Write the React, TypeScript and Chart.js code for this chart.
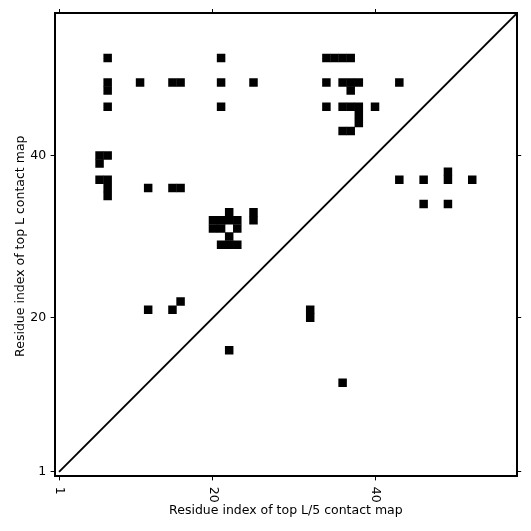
import React, { useEffect, useRef } from 'react';
import { Chart, registerables } from 'chart.js';

Chart.register(...registerables);

// ---- data ----
const axisMin = 0.5;
const axisMax = 57.5;
const tickValues = [1, 20, 40];
const tickLabels = ['1', '20', '40'];
const xTitle = 'Residue index of top L/5 contact map';
const yTitle = 'Residue index of top L contact map';

// top L contacts (upper-left triangle)
const topLX = [
  7, 21, 34, 35, 36, 37,
  7, 11, 15, 16, 21, 25, 34, 36, 37, 38, 43,
  7, 37,
  7, 21, 34, 36, 37, 38, 40,
  38,
  38,
  36, 37,
  6, 7,
  6,
  6, 7,
  7, 12, 15, 16,
  7,
  22, 25,
  20, 21, 22, 23, 25,
  20, 21, 23,
  22,
  21, 22, 23,
  16,
  12, 15,
];
const topLY = [
  52, 52, 52, 52, 52, 52,
  49, 49, 49, 49, 49, 49, 49, 49, 49, 49, 49,
  48, 48,
  46, 46, 46, 46, 46, 46, 46,
  45,
  44,
  43, 43,
  40, 40,
  39,
  37, 37,
  36, 36, 36, 36,
  35,
  33, 33,
  32, 32, 32, 32, 32,
  31, 31, 31,
  30,
  29, 29, 29,
  22,
  21, 21,
];

// top L/5 contacts (lower-right triangle)
const topL5X = [43, 46, 49, 49, 52, 46, 49, 32, 32, 22, 36];
const topL5Y = [37, 37, 37, 38, 37, 34, 34, 21, 20, 16, 12];

const diagonalX = [1, 57.5];
const diagonalY = [1, 57.5];

// ---- styling ----
const FONT = '"DejaVu Sans", sans-serif';
const FS = 12.5;
const TICK_LEN = 4.4;
const TICK_PAD = 4.4;

function cellRadius(ctx: any) {
  const s = ctx.chart.scales.x;
  if (!s) return 4;
  return (Math.abs(s.getPixelForValue(1) - s.getPixelForValue(0)) + 0.4) / Math.SQRT2;
}

const setTicks = (scale: any) => {
  scale.ticks = tickValues.map((v) => ({ value: v }));
};

const textPlugin = {
  id: 'contactTexts',
  afterDraw(chart: any) {
    const { ctx, chartArea, scales } = chart;
    ctx.save();
    ctx.fillStyle = '#000';
    ctx.font = `${FS}px ${FONT}`;
    // x tick labels, rotated clockwise
    tickValues.forEach((v, i) => {
      const px = scales.x.getPixelForValue(v);
      ctx.save();
      ctx.translate(px, chartArea.bottom + TICK_LEN + TICK_PAD + 2);
      ctx.rotate(Math.PI / 2);
      ctx.textAlign = 'left';
      ctx.textBaseline = 'middle';
      ctx.fillText(tickLabels[i], 0, 0);
      ctx.restore();
    });
    // x title
    ctx.textAlign = 'center';
    ctx.textBaseline = 'alphabetic';
    ctx.fillText(xTitle, (chartArea.left + chartArea.right) / 2, 513.5);
    // y title
    ctx.save();
    ctx.translate(24, (chartArea.top + chartArea.bottom) / 2 + 1.5);
    ctx.rotate(-Math.PI / 2);
    ctx.textAlign = 'center';
    ctx.textBaseline = 'alphabetic';
    ctx.fillText(yTitle, 0, 0);
    ctx.restore();
    ctx.restore();
  },
};

const gridOpts = {
  drawOnChartArea: false,
  drawTicks: true,
  tickLength: TICK_LEN,
  color: '#000',
  lineWidth: 1,
};
const borderOpts = { display: true, color: '#000', width: 2 };

const cellStyle = {
  pointStyle: 'rect',
  pointRadius: cellRadius,
  pointHoverRadius: cellRadius,
  pointBackgroundColor: '#000',
  pointBorderWidth: 0,
  showLine: false,
};

export default function App() {
  const ref = useRef<HTMLCanvasElement>(null);
  useEffect(() => {
    const canvas = ref.current;
    if (!canvas) return;
    const chart = new Chart(canvas, {
      type: 'scatter',
      data: {
        datasets: [
          {
            label: 'top L',
            data: topLX.map((x, i) => ({ x, y: topLY[i] })),
            ...cellStyle,
          },
          {
            label: 'top L/5',
            data: topL5X.map((x, i) => ({ x, y: topL5Y[i] })),
            ...cellStyle,
          },
          {
            label: 'diagonal',
            data: diagonalX.map((x, i) => ({ x, y: diagonalY[i] })),
            showLine: true,
            borderColor: '#000',
            borderWidth: 1.9,
            pointRadius: 0,
            fill: false,
          },
        ],
      } as any,
      options: {
        responsive: true,
        maintainAspectRatio: false,
        animation: false,
        events: [],
        layout: { padding: 0 },
        plugins: { legend: { display: false }, tooltip: { enabled: false } },
        scales: {
          x: {
            type: 'linear',
            position: 'bottom',
            min: axisMin,
            max: axisMax,
            afterBuildTicks: setTicks,
            afterFit: (s: any) => { s.height = 55; },
            ticks: { display: false },
            grid: gridOpts,
            border: borderOpts,
          },
          x2: {
            type: 'linear',
            position: 'top',
            min: axisMin,
            max: axisMax,
            afterBuildTicks: setTicks,
            afterFit: (s: any) => { s.height = 13.4; },
            ticks: { display: false },
            grid: gridOpts,
            border: borderOpts,
          },
          y: {
            type: 'linear',
            position: 'left',
            min: axisMin,
            max: axisMax,
            afterBuildTicks: setTicks,
            afterFit: (s: any) => { s.width = 55; },
            ticks: {
              color: '#000',
              padding: TICK_PAD,
              font: { family: FONT, size: FS },
              callback: (v: any) => {
                const k = tickValues.indexOf(Number(v));
                return k >= 0 ? tickLabels[k] : '';
              },
            },
            grid: gridOpts,
            border: borderOpts,
          },
          y2: {
            type: 'linear',
            position: 'right',
            min: axisMin,
            max: axisMax,
            afterBuildTicks: setTicks,
            afterFit: (s: any) => { s.width = 14.2; },
            ticks: { display: false },
            grid: gridOpts,
            border: borderOpts,
          },
        },
      } as any,
      plugins: [textPlugin],
    });
    return () => chart.destroy();
  }, []);
  return (
    <div style={{ position: 'fixed', left: 0, top: 0, width: 531, height: 531 }}>
      <canvas ref={ref} />
    </div>
  );
}
